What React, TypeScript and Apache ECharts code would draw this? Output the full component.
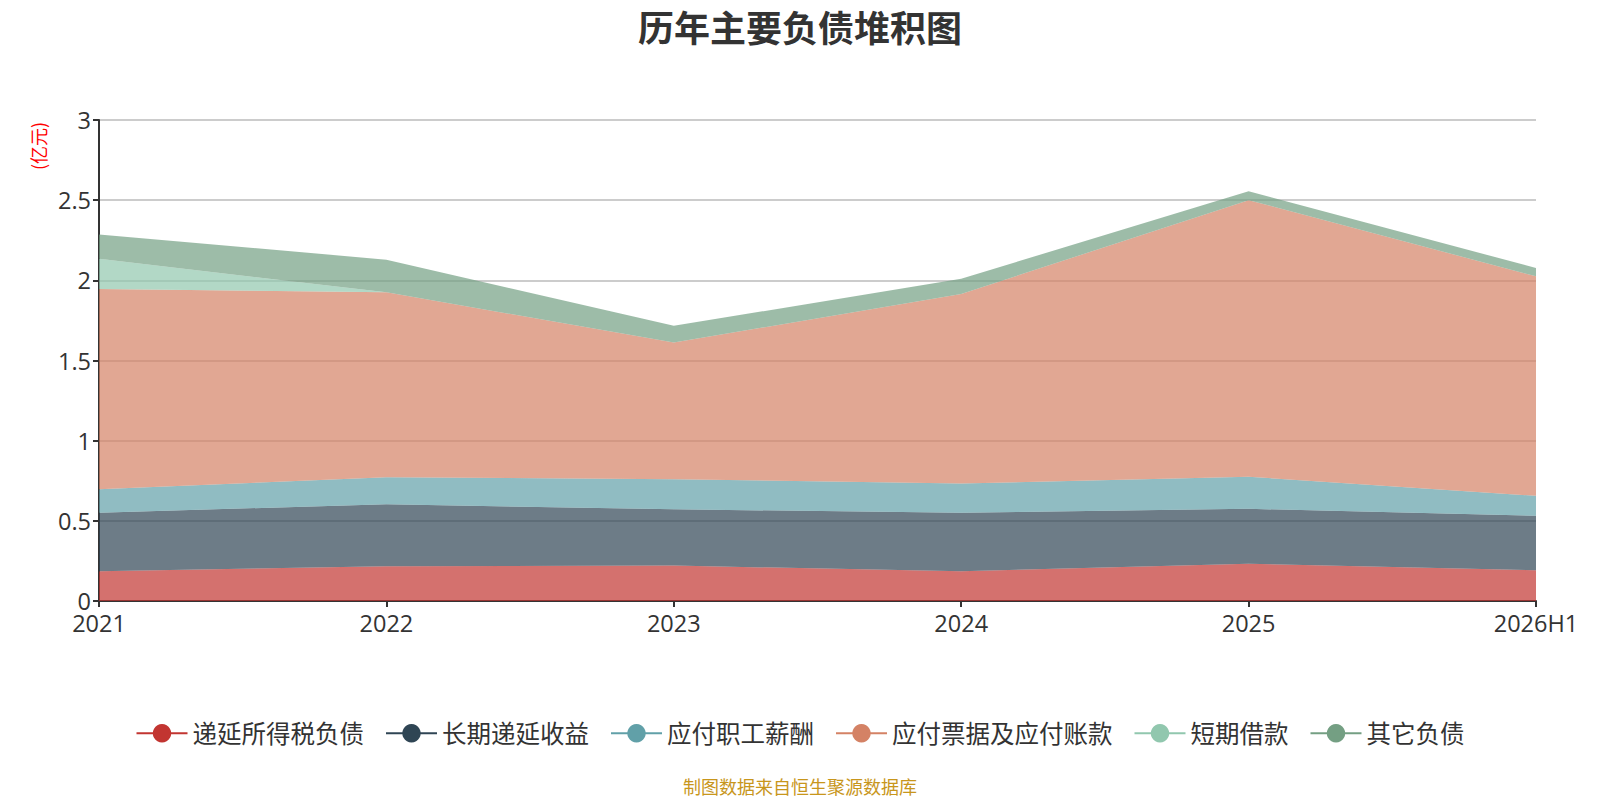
import { useRef, useEffect } from 'react'
import * as echarts from 'echarts'

// ── 数据（亿元）────────────────────────────────────────────────
const years = ['2021', '2022', '2023', '2024', '2025', '2026H1']

const seriesNames = ['递延所得税负债', '长期递延收益', '应付职工薪酬', '应付票据及应付账款', '短期借款', '其它负债']
const colors = ['#c23531', '#2f4554', '#61a0a8', '#d48265', '#91c7ae', '#749f83']

const deferredTax    = [0.186, 0.217, 0.221, 0.185, 0.233, 0.192]
const deferredIncome = [0.365, 0.386, 0.351, 0.365, 0.342, 0.339]
const payroll        = [0.146, 0.169, 0.188, 0.183, 0.200, 0.125]
const payables       = [1.249, 1.153, 0.852, 1.182, 1.725, 1.369]
const shortLoans     = [0.188, 0, 0, 0, 0, 0]
const otherLiab      = [0.152, 0.204, 0.104, 0.095, 0.056, 0.052]

const seriesData = [deferredTax, deferredIncome, payroll, payables, shortLoans, otherLiab]

const yTicks = { min: 0, max: 3, interval: 0.5 }

const FONT = "'Open Sans', 'Noto Sans CJK SC', sans-serif"
const CJK = "'Noto Sans CJK SC', sans-serif"

function buildOption(): echarts.EChartsOption {
  return {
    animation: false,
    color: colors,
    title: {
      text: '历年主要负债堆积图',
      left: 'center',
      top: 8,
      padding: 0,
      textStyle: { fontSize: 36, lineHeight: 36, fontWeight: 'bold', color: '#333', fontFamily: CJK },
    },
    legend: {
      data: seriesNames,
      top: 716,
      left: 'center',
      itemWidth: 51,
      itemHeight: 23,
      itemGap: 21,
      textStyle: { fontSize: 24.5, color: '#333', fontFamily: FONT },
      lineStyle: { width: 2, opacity: 1 },
      itemStyle: { opacity: 1 },
    },
    grid: { left: 99, right: 64, top: 120, bottom: 199, containLabel: false },
    xAxis: {
      type: 'category',
      data: years,
      boundaryGap: false,
      axisLine: { lineStyle: { color: '#333', width: 2 } },
      axisTick: { lineStyle: { color: '#333', width: 2 }, length: 6 },
      axisLabel: { fontSize: 23.5, color: '#333', margin: 10, fontFamily: FONT },
    },
    yAxis: {
      type: 'value',
      min: yTicks.min,
      max: yTicks.max,
      interval: yTicks.interval,
      axisLine: { show: true, lineStyle: { color: '#333', width: 2 } },
      axisTick: { show: true, lineStyle: { color: '#333', width: 2 }, length: 6 },
      axisLabel: { fontSize: 23.5, color: '#333', margin: 8, fontFamily: FONT },
      splitLine: { lineStyle: { color: '#ccc', width: 2 } },
    },
    graphic: [
      {
        type: 'text',
        x: 38,
        y: 146,
        rotation: Math.PI / 2,
        style: {
          text: '(亿元)',
          fill: '#ff0000',
          fontSize: 18,
          fontFamily: CJK,
          textAlign: 'center',
          textVerticalAlign: 'middle',
        },
      },
      {
        type: 'text',
        x: 800,
        y: 786,
        style: {
          text: '制图数据来自恒生聚源数据库',
          fill: '#c8961c',
          fontSize: 18,
          lineHeight: 18,
          fontFamily: CJK,
          textAlign: 'center',
          textVerticalAlign: 'middle',
        },
      },
    ],
    series: seriesNames.map((name, i) => ({
      name,
      type: 'line',
      stack: 'total',
      data: seriesData[i],
      symbol: 'circle',
      symbolSize: 8,
      showSymbol: false,
      lineStyle: { width: 0 },
      areaStyle: { opacity: 0.7 },
      itemStyle: { color: colors[i] },
    })),
  } as echarts.EChartsOption
}

export default function App() {
  const containerRef = useRef<HTMLDivElement>(null)

  useEffect(() => {
    if (!containerRef.current) return
    const chart = echarts.init(containerRef.current, undefined, { renderer: 'svg' })
    chart.setOption(buildOption())
    return () => {
      chart.dispose()
    }
  }, [])

  return (
    <div
      ref={containerRef}
      style={{ position: 'fixed', left: 0, top: 0, width: 1600, height: 800, background: '#fff' }}
    />
  )
}
